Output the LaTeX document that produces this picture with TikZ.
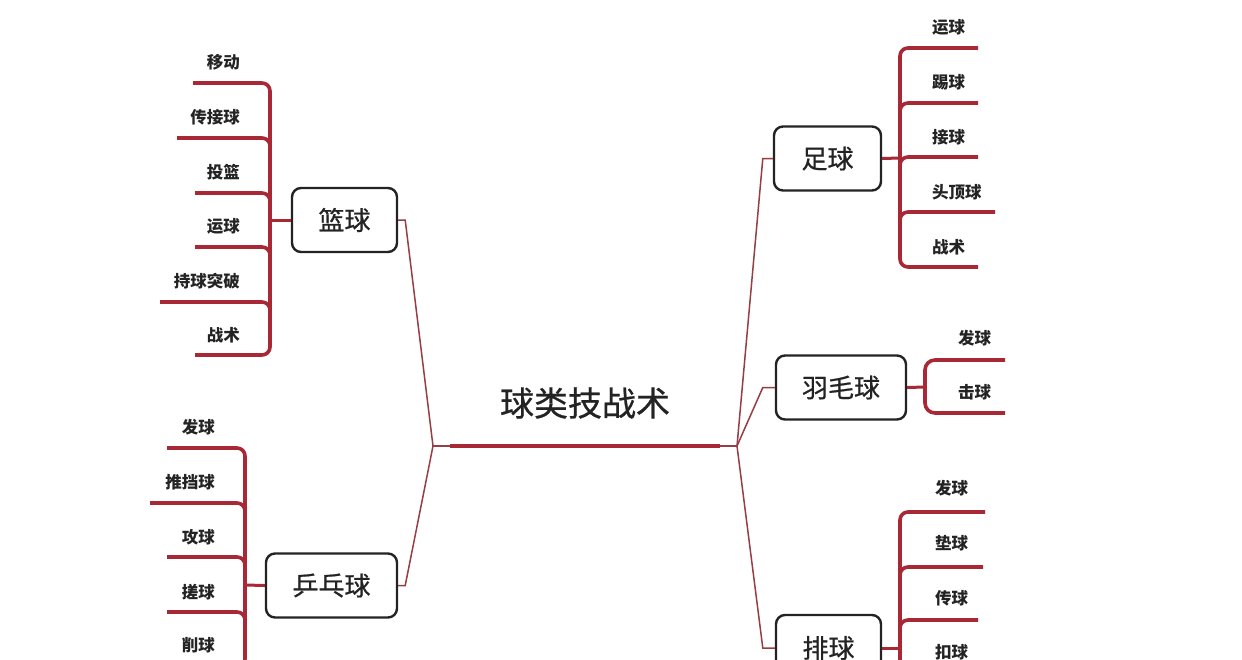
\documentclass[tikz,border=0pt]{standalone}
\usepackage{fontspec}
\newfontfamily\cjk{Noto Sans CJK SC}
\newfontfamily\cjkm[FakeBold=0.7]{Noto Sans CJK SC}
\definecolor{lred}{RGB}{168,40,54}
\definecolor{dred}{RGB}{150,62,68}
\definecolor{ink}{RGB}{35,35,35}
\begin{document}
\begin{tikzpicture}[x=1pt,y=-1pt,
  leaf/.style={font=\cjk\bfseries\fontsize{16.5}{18}\selectfont, text=ink, inner sep=0pt},
  topic/.style={draw=ink, line width=2.4pt, rounded corners=9pt, fill=white,
    font=\cjkm\fontsize{26}{28}\selectfont, text=ink, minimum height=64pt, inner sep=0pt},
  branch/.style={draw=lred, line width=3.6pt, rounded corners=8pt},
  link/.style={draw=dred, line width=1.5pt},
  mainline/.style={draw=lred, line width=4.5pt}]
\useasboundingbox (0,0) rectangle (1242,659);
\clip (0,0) rectangle (1242,659);
\fill[white] (0,0) rectangle (1242,659);

% ---------- centre ----------
\coordinate (L) at (433,446);
\coordinate (R) at (737,446);
\coordinate (M1) at (450,446);
\coordinate (M2) at (720,446);
\node[font=\cjkm\fontsize{34}{36}\selectfont, text=ink, inner sep=0pt] (title) at (585,403) {球类技战术};

% ---------- topic boxes ----------
\node[topic, minimum width=105pt] (bask) at (344.5,220) {篮球};
\node[topic, minimum width=131pt] (ping) at (331.5,585.5) {乒乓球};
\node[topic, minimum width=107pt] (foot) at (827.5,158.5) {足球};
\node[topic, minimum width=130pt] (bad) at (841,387.5) {羽毛球};
\node[topic, minimum width=105pt, minimum height=66pt] (vol) at (828.5,648) {排球};

% ---------- links to centre ----------
\draw[link] (L) -- (R);
\draw[mainline] (M1) -- (M2);
\draw[link] (bask.east) -- ++(7,0) -- (L);
\draw[link] (ping.east) -- ++(7,0) -- (L);
\draw[link] (foot.west) -- ++(-10,0) -- (R);
\draw[link] (bad.west) -- ++(-12,0) -- (R);
\draw[link] (vol.west) -- ++(-12,0) -- (R);

% ---------- 篮球 ----------
\coordinate (bv1) at (270,83);  \coordinate (bv6) at (270,355);
\coordinate (bs1) at (193,83);  \coordinate (bs2) at (177,138);
\coordinate (bs3) at (195,193); \coordinate (bs4) at (195,247);
\coordinate (bs5) at (160,302); \coordinate (bs6) at (195,355);
\coordinate (bj) at (270,220);
\draw[branch] (bs1) -- (bv1) -- (bv6) -- (bs6);
\foreach \i/\y in {2/138,3/193,4/247,5/302}
  \draw[branch] (bs\i) -- (270,\y) -- (270,\y+12);
\draw[branch, line width=3pt] (bj) -- (bask.west);
\node[leaf, anchor=east] (b1) at (240,62) {移动};
\node[leaf, anchor=east] (b2) at (240,117) {传接球};
\node[leaf, anchor=east] (b3) at (240,172) {投篮};
\node[leaf, anchor=east] (b4) at (240,226) {运球};
\node[leaf, anchor=east] (b5) at (240,281) {持球突破};
\node[leaf, anchor=east] (b6) at (240,335) {战术};

% ---------- 乒乓球 ----------
\coordinate (pv1) at (245,448); \coordinate (pv5) at (245,667);
\coordinate (ps1) at (167,448); \coordinate (ps2) at (150,503);
\coordinate (ps3) at (167,557); \coordinate (ps4) at (167,612);
\coordinate (ps5) at (167,667);
\coordinate (pj) at (245,585);
\draw[branch] (ps1) -- (pv1) -- (pv5) -- (ps5);
\foreach \i/\y in {2/503,3/557,4/612}
  \draw[branch] (ps\i) -- (245,\y) -- (245,\y+12);
\draw[branch, line width=3pt] (pj) -- (ping.west);
\node[leaf, anchor=east] (p1) at (215,427) {发球};
\node[leaf, anchor=east] (p2) at (215,482) {推挡球};
\node[leaf, anchor=east] (p3) at (215,537) {攻球};
\node[leaf, anchor=east] (p4) at (215,592) {搓球};
\node[leaf, anchor=east] (p5) at (215,645) {削球};

% ---------- 足球 ----------
\coordinate (fv1) at (900,48);  \coordinate (fv5) at (900,267);
\coordinate (fe1) at (978,48);  \coordinate (fe2) at (978,103);
\coordinate (fe3) at (978,157); \coordinate (fe4) at (995,212);
\coordinate (fe5) at (978,267);
\coordinate (fj) at (900,158);
\draw[branch] (fe1) -- (fv1) -- (fv5) -- (fe5);
\foreach \i/\y in {2/103,3/157,4/212}
  \draw[branch] (fe\i) -- (900,\y) -- (900,\y+12);
\draw[branch, line width=3pt] (foot.east) -- (fj);
\node[leaf, anchor=west] (f1) at (932,27) {运球};
\node[leaf, anchor=west] (f2) at (932,82) {踢球};
\node[leaf, anchor=west] (f3) at (932,137) {接球};
\node[leaf, anchor=west] (f4) at (932,192) {头顶球};
\node[leaf, anchor=west] (f5) at (932,247) {战术};

% ---------- 羽毛球 ----------
\coordinate (dv1) at (925,360); \coordinate (dv2) at (925,413);
\coordinate (de1) at (1005,360); \coordinate (de2) at (1005,413);
\coordinate (dj) at (925,387);
\draw[branch, rounded corners=10pt] (de1) -- (dv1) -- (dv2) -- (de2);
\draw[branch, line width=3pt] (bad.east) -- (dj);
\node[leaf, anchor=west] (d1) at (958,338) {发球};
\node[leaf, anchor=west] (d2) at (958,392) {击球};

% ---------- 排球 ----------
\coordinate (vv1) at (900,512); \coordinate (vv4) at (900,675);
\coordinate (ve1) at (985,512); \coordinate (ve2) at (983,567);
\coordinate (ve3) at (978,620); \coordinate (ve4) at (980,675);
\coordinate (vj) at (900,648);
\draw[branch] (ve1) -- (vv1) -- (vv4) -- (ve4);
\foreach \i/\y in {2/567,3/620}
  \draw[branch] (ve\i) -- (900,\y) -- (900,\y+12);
\draw[branch, line width=3pt] (vol.east) -- (vj);
\node[leaf, anchor=west] (v1) at (935,488) {发球};
\node[leaf, anchor=west] (v2) at (935,543) {垫球};
\node[leaf, anchor=west] (v3) at (935,598) {传球};
\node[leaf, anchor=west] (v4) at (935,652) {扣球};
\end{tikzpicture}
\end{document}
